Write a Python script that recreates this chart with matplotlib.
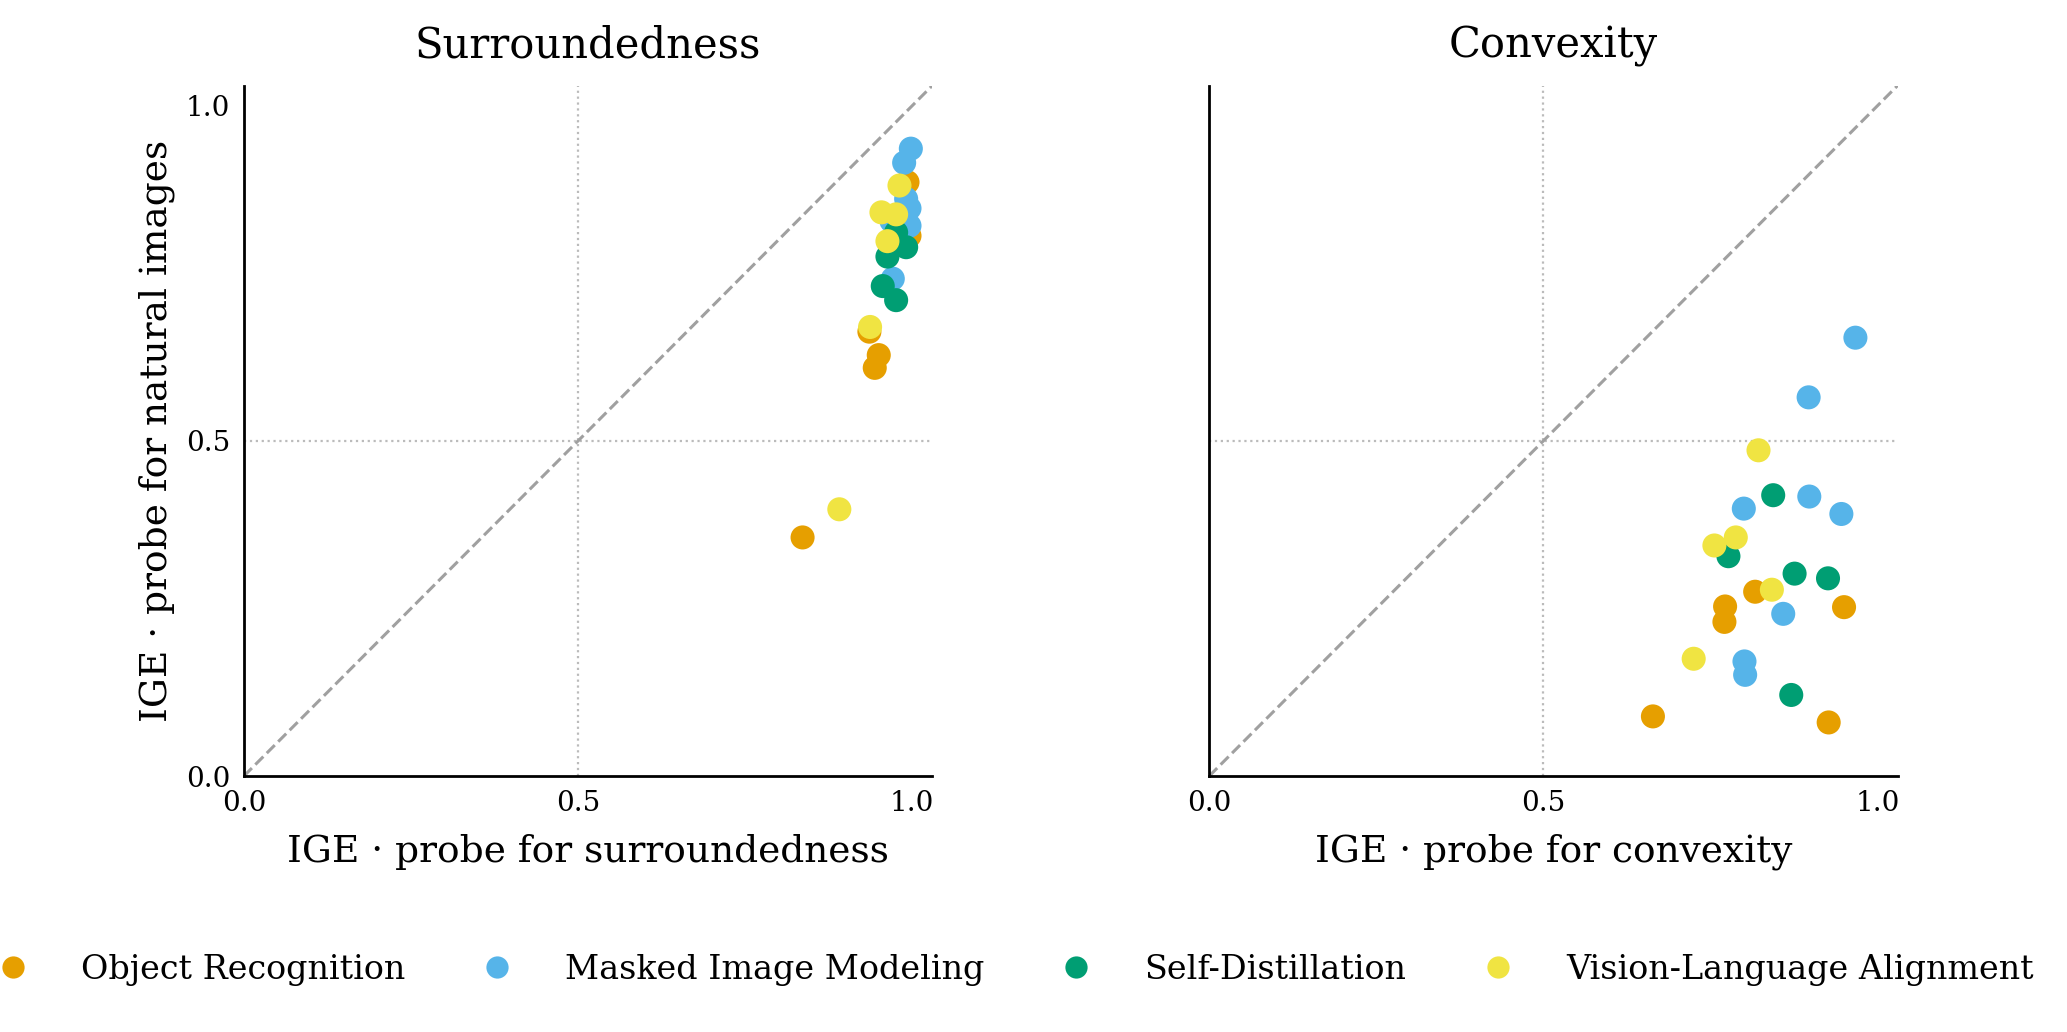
import matplotlib
matplotlib.use("Agg")
import matplotlib.pyplot as plt
from matplotlib.lines import Line2D

plt.rcParams['font.family'] = ['DejaVu Serif']

groups = ['Object Recognition', 'Masked Image Modeling', 'Self-Distillation', 'Vision-Language Alignment']
colors = ['#E69F00', '#56B4E9', '#009E73', '#F0E442']

# surroundedness panel: (probe for surroundedness, probe for natural images)
sur_x = {
    'Object Recognition': [0.993, 0.996, 0.936, 0.950, 0.944, 0.836],
    'Masked Image Modeling': [0.998, 0.988, 0.991, 0.996, 0.969, 0.996, 0.984, 0.971],
    'Self-Distillation': [0.976, 0.991, 0.963, 0.956, 0.976],
    'Vision-Language Alignment': [0.981, 0.954, 0.976, 0.963, 0.937, 0.891],
}
sur_y = {
    'Object Recognition': [0.886, 0.806, 0.663, 0.628, 0.609, 0.356],
    'Masked Image Modeling': [0.936, 0.915, 0.861, 0.847, 0.828, 0.821, 0.811, 0.742],
    'Self-Distillation': [0.811, 0.789, 0.775, 0.731, 0.710],
    'Vision-Language Alignment': [0.881, 0.841, 0.838, 0.798, 0.670, 0.398],
}

# convexity panel: (probe for convexity, probe for natural images)
con_x = {
    'Object Recognition': [0.817, 0.772, 0.771, 0.950, 0.664, 0.927],
    'Masked Image Modeling': [0.967, 0.897, 0.800, 0.898, 0.946, 0.859, 0.801, 0.802],
    'Self-Distillation': [0.844, 0.777, 0.876, 0.926, 0.871],
    'Vision-Language Alignment': [0.822, 0.788, 0.756, 0.842, 0.725],
}
con_y = {
    'Object Recognition': [0.275, 0.253, 0.230, 0.252, 0.089, 0.080],
    'Masked Image Modeling': [0.654, 0.565, 0.399, 0.417, 0.391, 0.242, 0.171, 0.151],
    'Self-Distillation': [0.419, 0.328, 0.302, 0.295, 0.121],
    'Vision-Language Alignment': [0.486, 0.356, 0.344, 0.278, 0.175],
}

fig = plt.figure(figsize=(10.335, 5.16), dpi=200)
ax1 = fig.add_axes([0.118, 0.248, 0.333, 0.669])
ax2 = fig.add_axes([0.585, 0.248, 0.333, 0.669])

panels = [
    (ax1, sur_x, sur_y, 'Surroundedness', 'IGE · probe for surroundedness'),
    (ax2, con_x, con_y, 'Convexity', 'IGE · probe for convexity'),
]

for ax, xs, ys, title, xlabel in panels:
    ax.axhline(0.5, color='#bbbbbb', linestyle=':', linewidth=0.8, zorder=0)
    ax.axvline(0.5, color='#bbbbbb', linestyle=':', linewidth=0.8, zorder=0)
    ax.plot([0, 1.03], [0, 1.03], color='#a0a0a0', linestyle='--', linewidth=1.1, zorder=1)
    for g, c in zip(groups, colors):
        ax.scatter(xs[g], ys[g], s=75, color=c, edgecolors='none', zorder=3)
    ax.set_xlim(0, 1.03)
    ax.set_ylim(0, 1.03)
    ax.set_xticks([0, 0.5, 1.0])
    ax.set_yticks([0, 0.5, 1.0])
    ax.tick_params(length=0, labelsize=10, pad=5)
    for s in ['top', 'right']:
        ax.spines[s].set_visible(False)
    for s in ['left', 'bottom']:
        ax.spines[s].set_linewidth(1.0)
    ax.set_title(title, fontsize=15, pad=10)
    ax.set_xlabel(xlabel, fontsize=13.5, labelpad=6)

ax1.set_ylabel('IGE · probe for natural images', fontsize=13.5, labelpad=4)
ax2.set_yticklabels([])

handles = [Line2D([], [], marker='o', linestyle='none', markersize=8, color=c, markeredgewidth=0) for c in colors]
fig.legend(handles, groups, loc='center', bbox_to_anchor=(0.487, 0.06), ncol=4, frameon=False,
           fontsize=12, handletextpad=1.05, columnspacing=1.75)

fig.savefig('out.png', dpi=200)
